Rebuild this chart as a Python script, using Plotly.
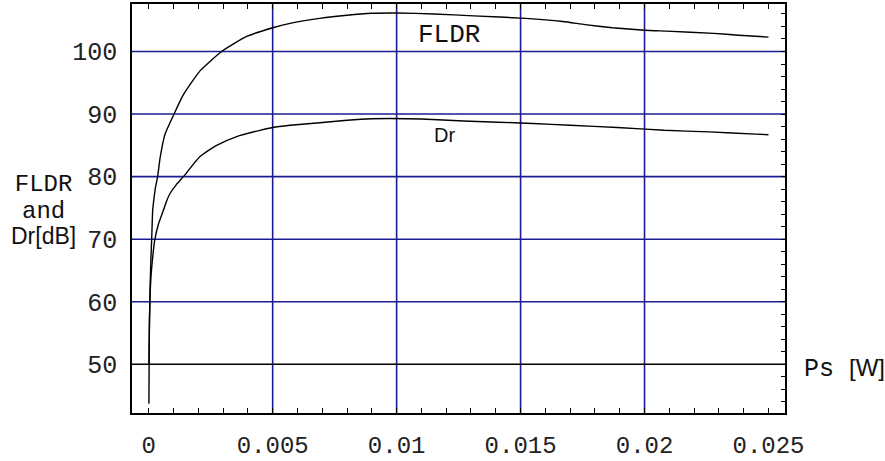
import plotly.graph_objects as go

# FLDR and Dr versus signal power Ps
fldr_x = [0.000008, 0.00002, 0.00003, 0.00006, 0.00009, 0.00012, 0.00016, 0.0002,
          0.00027, 0.00036, 0.00046, 0.00066, 0.00102, 0.0014, 0.00207, 0.00294,
          0.00395, 0.005, 0.0057, 0.0069, 0.008, 0.009, 0.010, 0.0115, 0.0131,
          0.0152, 0.0167, 0.0176, 0.0187, 0.0200, 0.0209, 0.0228, 0.0238, 0.025]
fldr_y = [43.7, 52.5, 56.5, 63.0, 67.0, 70.0, 74.6, 76.1,
          78.2, 80.0, 83.0, 86.8, 90.0, 93.1, 96.9, 100.0,
          102.4, 103.8, 104.5, 105.3, 105.8, 106.1, 106.15, 106.0, 105.7,
          105.3, 104.8, 104.3, 103.8, 103.4, 103.25, 102.9, 102.6, 102.3]

dr_x = [0.00001, 0.00003, 0.00006, 0.0001, 0.00017, 0.00025, 0.0004, 0.0006,
        0.00073, 0.00086, 0.00113, 0.0014, 0.00207, 0.00274, 0.00355, 0.00449,
        0.005, 0.0057, 0.0069, 0.008, 0.009, 0.0097, 0.0110, 0.0127, 0.0155,
        0.0170, 0.0189, 0.0208, 0.0226, 0.0245, 0.025]
dr_y = [50.0, 57.0, 61.5, 64.5, 67.5, 70.0, 72.5, 74.7,
        76.2, 77.3, 78.8, 80.0, 83.2, 85.0, 86.4, 87.4,
        87.86, 88.2, 88.6, 89.0, 89.25, 89.3, 89.2, 88.9, 88.5,
        88.2, 87.86, 87.4, 87.15, 86.8, 86.7]

x_tick_vals = [0, 0.005, 0.01, 0.015, 0.02, 0.025]
x_tick_text = ["0", "0.005", "0.01", "0.015", "0.02", "0.025"]
y_tick_vals = [50, 60, 70, 80, 90, 100]
y_tick_text = ["50", "60", "70", "80", "90", "100"]
grid_x = [0.005, 0.01, 0.015, 0.02]
grid_y = [60, 70, 80, 90, 100]
axis_level = 50

x_range = [-0.000674, 0.025666]
y_range = [42.22, 107.59]

MONO = "Liberation Mono"
SANS = "Liberation Sans"
GRID = "#1c1c94"

curve_line = dict(color="black", width=1.4, shape="spline", smoothing=0.5)

fig = go.Figure()
fig.add_trace(go.Scatter(x=fldr_x, y=fldr_y, mode="lines", line=curve_line, yaxis="y"))
fig.add_trace(go.Scatter(x=dr_x, y=dr_y, mode="lines", line=curve_line, yaxis="y2"))

for gx in grid_x:
    fig.add_vline(x=gx, line=dict(color=GRID, width=1.6), layer="below")
for gy in grid_y:
    fig.add_hline(y=gy, line=dict(color=GRID, width=1.6), layer="below")
fig.add_hline(y=axis_level, line=dict(color="black", width=1.4), layer="below")

fig.update_layout(
    width=885, height=461,
    margin=dict(l=132, r=100, t=4, b=48),
    paper_bgcolor="white", plot_bgcolor="white",
    showlegend=False,
    xaxis=dict(
        range=x_range, tickvals=x_tick_vals, ticktext=x_tick_text,
        ticks="inside", ticklen=5, tickwidth=1.3, tickcolor="black",
        minor=dict(dtick=0.001, tick0=0, ticks="inside", ticklen=5,
                   tickwidth=1.3, tickcolor="black", showgrid=False),
        showgrid=False, zeroline=False, automargin=False,
        showline=True, linecolor="black", linewidth=1.5, mirror="allticks",
        tickfont=dict(family=MONO, size=24, color="#222"),
        ticklabelstandoff=9,
    ),
    yaxis=dict(
        range=y_range, tickvals=y_tick_vals, ticktext=y_tick_text,
        ticks="", showgrid=False, zeroline=False, automargin=False,
        showline=True, linecolor="black", linewidth=1.5, mirror=True,
        tickfont=dict(family=MONO, size=25, color="#222"),
        ticklabelstandoff=8,
    ),
    yaxis2=dict(
        matches="y", overlaying="y", side="right",
        range=y_range, dtick=2, tick0=0, automargin=False,
        ticks="inside", ticklen=4, tickwidth=1.3, tickcolor="black",
        showticklabels=False, showgrid=False, zeroline=False, showline=False,
    ),
)

# curve labels
fig.add_annotation(x=0.01213, y=102.64, text="FLDR", showarrow=False,
                   font=dict(family=MONO, size=26, color="#111"))
fig.add_annotation(x=0.01195, y=86.6, text="Dr", showarrow=False,
                   font=dict(family=SANS, size=20, color="#111"))

# y-axis title (three lines, mixed fonts)
y_title = (f'<span style="font-family:{MONO}; font-size:24px">FLDR</span><br>'
           f'<span style="font-family:{MONO}; font-size:24px">and</span><br>'
           f'<span style="font-size:23px">Dr[dB]</span>')
fig.add_annotation(xref="paper", yref="paper", x=-0.135, y=0.497,
                   xanchor="center", yanchor="middle", align="center",
                   text=y_title, showarrow=False,
                   font=dict(family=SANS, size=20.5, color="#111"))

# x-axis title
fig.add_annotation(xref="paper", yref="paper", x=1.026, y=0.107,
                   xanchor="left", yanchor="middle",
                   text=f"Ps <span style=\"font-family:{SANS}; font-size:24px\">[W]</span>",
                   showarrow=False,
                   font=dict(family=MONO, size=25, color="#111"))

fig.write_html("out.html")
